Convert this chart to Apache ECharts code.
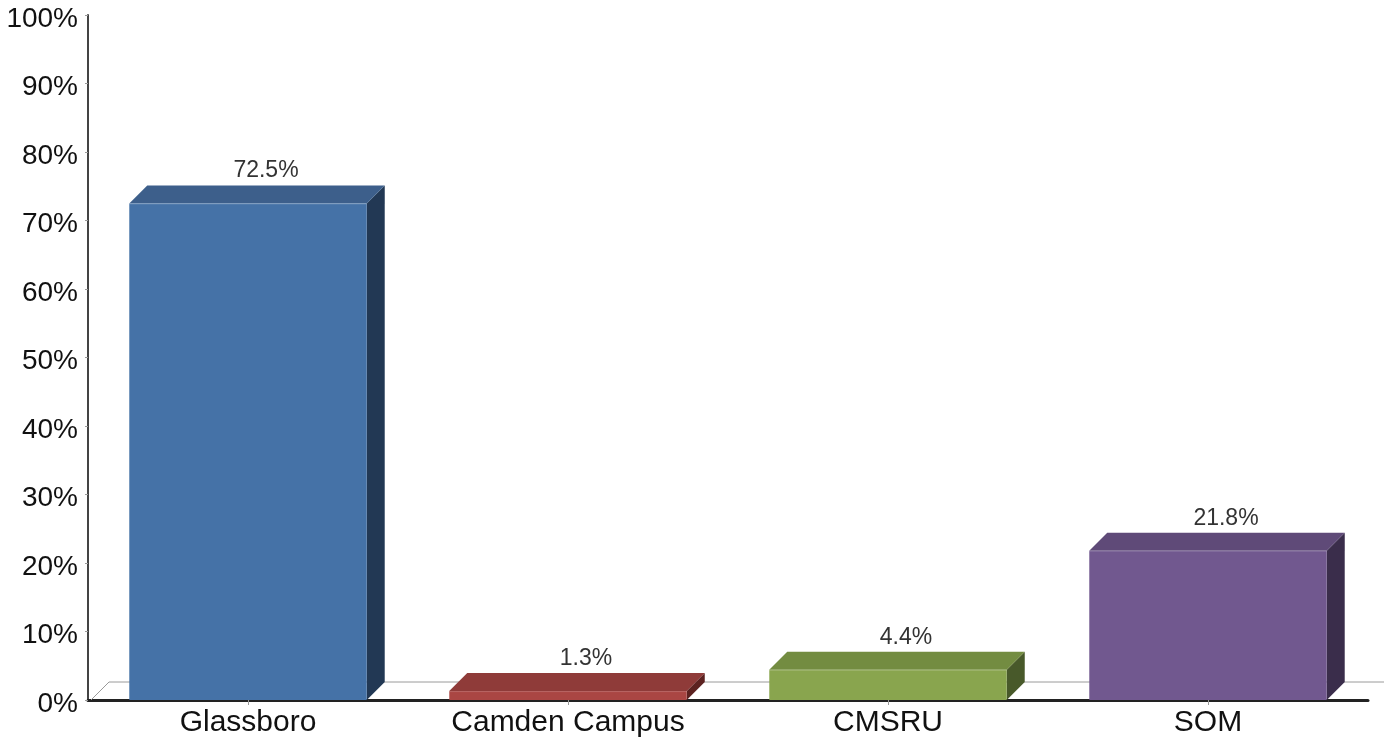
<!DOCTYPE html>
<html>
<head>
<meta charset="utf-8">
<script src="https://cdn.jsdelivr.net/npm/echarts@6/dist/echarts.min.js"></script>
<style>
html,body{margin:0;padding:0;background:#fff;}
#chart{width:1384px;height:740px;}
</style>
</head>
<body>
<div id="chart"></div>
<script>
// ---- data ----
const categories = ['Glassboro', 'Camden Campus', 'CMSRU', 'SOM'];
const values = [72.5, 1.3, 4.4, 21.8];
const yTicks = [0, 10, 20, 30, 40, 50, 60, 70, 80, 90, 100];

// ---- styles ----
const frontColors = ['#4572A7', '#AA4643', '#89A54E', '#71588F'];
const topColors   = ['#3D5F8B', '#8F3B39', '#738C41', '#5F4A78'];
const sideColors  = ['#223854', '#5C2220', '#48592A', '#3A2D4B'];
const DEPTH = 18;
const FONT = '"Liberation Sans", Arial, Helvetica, sans-serif';

const chart = echarts.init(document.getElementById('chart'), null, {renderer: 'canvas'});

function renderFloor(params, api) {
  const cs = params.coordSys;
  const x0 = cs.x, y0 = cs.y + cs.height, x1 = cs.x + cs.width;
  return {
    type: 'group',
    children: [
      {type: 'line', shape: {x1: x0 + 3, y1: y0, x2: x0 + 3 + DEPTH, y2: y0 - DEPTH},
       style: {stroke: '#9a9a9a', lineWidth: 1}},
      {type: 'line', shape: {x1: x0 + 3 + DEPTH, y1: y0 - DEPTH, x2: x1 + DEPTH + 20, y2: y0 - DEPTH},
       style: {stroke: '#9a9a9a', lineWidth: 1}}
    ]
  };
}

function renderBar(params, api) {
  const idx = params.dataIndex;
  const xv = api.value(0), v = api.value(1);
  const base = api.coord([xv, 0]);
  const top = api.coord([xv, v]);
  const bw = api.size([1, 0])[0] * 0.742;
  const l = base[0] - bw / 2, r = base[0] + bw / 2;
  const yt = top[1], yb = base[1];
  const D = DEPTH;
  return {
    type: 'group',
    children: [
      {type: 'polygon', shape: {points: [[r, yt], [r + D, yt - D], [r + D, yb - D], [r, yb]]},
       style: {fill: sideColors[idx]}},
      {type: 'polygon', shape: {points: [[l, yt], [l + D, yt - D], [r + D, yt - D], [r, yt]]},
       style: {fill: topColors[idx]}},
      {type: 'rect', shape: {x: l, y: yt, width: bw, height: yb - yt},
       style: {fill: frontColors[idx]}},
      {type: 'line', shape: {x1: l, y1: yt + 0.5, x2: r, y2: yt + 0.5},
       style: {stroke: 'rgba(255,255,255,0.18)', lineWidth: 1}},
      {type: 'text', x: (l + r) / 2 + D, y: yt - D - 3,
       style: {text: v.toFixed(1) + '%', textAlign: 'center', textVerticalAlign: 'bottom',
               fontSize: 23, fontFamily: FONT, fill: '#333'}}
    ]
  };
}

const option = {
  backgroundColor: '#fff',
  animation: false,
  grid: {left: 88, right: 16, top: 15, bottom: 40, containLabel: false},
  xAxis: {
    type: 'category',
    data: categories,
    axisLine: {show: true, lineStyle: {color: '#222', width: 3}},
    axisTick: {show: true, alignWithLabel: true, length: 5, lineStyle: {color: '#999'}},
    axisLabel: {fontSize: 30, fontFamily: FONT, color: '#111', margin: 8},
    splitLine: {show: false}
  },
  yAxis: {
    type: 'value',
    min: yTicks[0],
    max: yTicks[yTicks.length - 1],
    interval: yTicks[1] - yTicks[0],
    axisLine: {show: true, lineStyle: {color: '#444', width: 2}},
    axisTick: {show: true, length: 3, lineStyle: {color: '#999'}},
    axisLabel: {
      margin: 10,
      formatter: function (v) { return '{a|' + v + '%}'; },
      rich: {a: {fontSize: 28, fontFamily: FONT, color: '#111', padding: [8, 0, 0, 0]}}
    },
    splitLine: {show: false}
  },
  series: [
    {
      type: 'custom',
      renderItem: renderFloor,
      data: [[0, 0]],
      z: 1,
      silent: true
    },
    {
      type: 'custom',
      renderItem: renderBar,
      data: values.map((v, i) => [i, v]),
      z: 3
    }
  ]
};
chart.setOption(option);
</script>
</body>
</html>
